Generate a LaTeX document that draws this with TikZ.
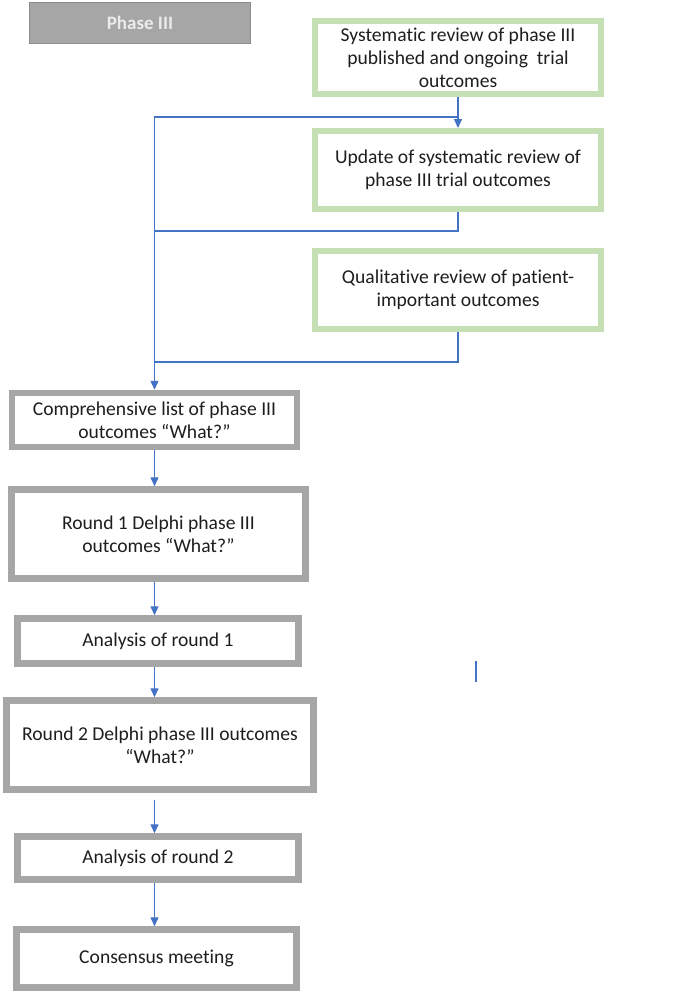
\documentclass[tikz,border=0pt]{standalone}
\usepackage{fontspec}
\setmainfont{Carlito}[Ligatures=NoCommon]
\usetikzlibrary{arrows.meta}
\definecolor{gbord}{HTML}{C5E0B4}
\definecolor{gybord}{HTML}{A6A6A6}
\definecolor{hdrfill}{HTML}{A6A6A6}
\definecolor{hdrbord}{HTML}{8C8C8C}
\definecolor{lnblue}{HTML}{4472C4}
\definecolor{txt}{HTML}{1E1E1E}
\tikzset{
  every node/.style={font=\fontsize{19.6}{23}\selectfont, text=txt, align=center, inner sep=0pt},
  greenbox/.style={draw=gbord, line width=6pt, fill=white, minimum width=286pt},
  graybox/.style={draw=gybord, line width=6.5pt, fill=white},
  hdr/.style={draw=hdrbord, line width=1pt, fill=hdrfill, minimum width=221pt, minimum height=41pt, text=white!92!black, font=\fontsize{19}{22}\selectfont\bfseries},
  conn/.style={draw=lnblue, line width=1.4pt},
  arr/.style={conn, -{Triangle[width=8pt,length=9pt]}}
}
\begin{document}
\begin{tikzpicture}[x=1pt,y=-1pt]
\useasboundingbox (0,0) rectangle (683,993);
\node[hdr] (hdr) at (140,22.5) {Phase III};
\node[greenbox, minimum height=73pt] (g1) at (458,57.5) {Systematic review of phase III\\published and ongoing\ \ trial\\outcomes};
\node[greenbox, minimum height=78pt] (g2) at (458,170) {Update of systematic review of\\phase III trial outcomes};
\node[greenbox, minimum height=78pt] (g3) at (458,290) {Qualitative review of patient-\\important outcomes};
\node[graybox, minimum width=285pt, minimum height=54pt] (comp) at (154.5,420) {Comprehensive list of phase III\\outcomes “What?”};
\node[graybox, minimum width=294pt, minimum height=89pt] (r1) at (158.5,534) {Round 1 Delphi phase III\\outcomes “What?”};
\node[graybox, minimum width=281pt, minimum height=45pt] (a1) at (158,641) {Analysis of round 1};
\node[graybox, minimum width=307pt, minimum height=89pt] (r2) at (160,745) {Round 2 Delphi phase III outcomes\\“What?”};
\node[graybox, minimum width=281pt, minimum height=43pt] (a2) at (158,858) {Analysis of round 2};
\node[graybox, minimum width=280pt, minimum height=58pt] (cons) at (156.5,958.5) {Consensus meeting};
\coordinate (j1) at (459,117);
\coordinate (j2) at (155,231);
\coordinate (j3) at (155,362);
\draw[arr] (g1.south) -- (g2.north);
\draw[arr] (j1) -| (comp.north);
\draw[conn] (g2.south) |- (j2);
\draw[conn] (g3.south) |- (j3);
\draw[arr] (comp.south) -- (comp.south |- r1.north);
\draw[arr] (comp.south |- r1.south) -- (comp.south |- a1.north);
\draw[arr] (comp.south |- a1.south) -- (comp.south |- r2.north);
\draw[arr, shorten <=7pt] (comp.south |- r2.south) -- (comp.south |- a2.north);
\draw[arr] (comp.south |- a2.south) -- (comp.south |- cons.north);
\coordinate (s1) at (476,661);
\coordinate (s2) at (476,682);
\draw[conn, line width=1.8pt] (s1) -- (s2);
\end{tikzpicture}
\end{document}
